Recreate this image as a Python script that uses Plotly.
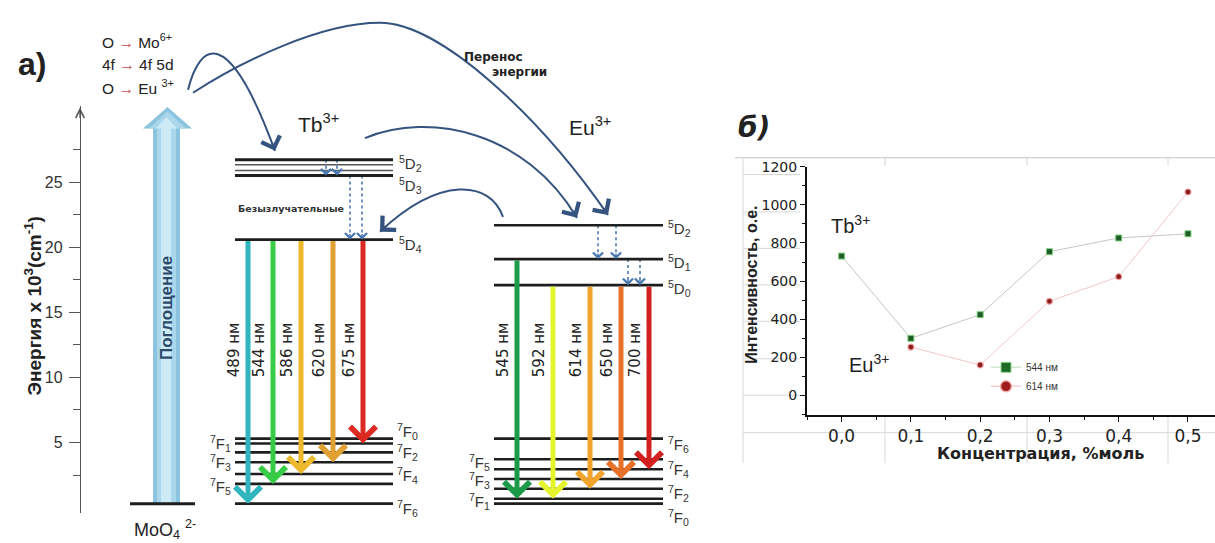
import plotly.graph_objects as go

W, H = 1215, 543


def px(x):
    return x / W


def py(y):
    return 1 - y / H


# ---------------- energy diagram, 10^3 cm^-1 ----------------
energy_ticks = [5, 10, 15, 20, 25]
energy_minor = [2.5, 7.5, 12.5, 17.5, 22.5, 27.5]

moo4_ground = 0.30
absorption_top = 30.8

tb_upper_levels = [26.74, 26.36, 25.91, 25.53]      # 5D2 ... 5D3 manifold
tb_5d4 = 20.6
tb_7f_names = ["7F0", "7F1", "7F2", "7F3", "7F4", "7F5", "7F6"]
tb_7f_levels = [5.30, 4.92, 4.24, 3.48, 2.58, 1.82, 0.30]

eu_5d_names = ["5D2", "5D1", "5D0"]
eu_5d_levels = [21.7, 19.1, 17.1]
eu_7f_names = ["7F6", "7F5", "7F4", "7F3", "7F2", "7F1", "7F0"]
eu_7f_levels = [5.30, 3.71, 2.95, 2.20, 1.44, 0.68, 0.30]

tb_emission_nm = [489, 544, 586, 620, 675]
tb_emission_to = ["7F6", "7F5", "7F4", "7F3", "7F1"]

eu_emission_nm = [545, 592, 614, 650, 700]
eu_emission_from = ["5D1", "5D0", "5D0", "5D0", "5D0"]
eu_emission_to = ["7F1", "7F1", "7F2", "7F3", "7F4"]

# ---------------- intensity vs concentration ----------------
conc_544 = [0.0, 0.1, 0.2, 0.3, 0.4, 0.5]
intensity_544 = [731, 300, 424, 754, 826, 848]
conc_614 = [0.1, 0.2, 0.3, 0.4, 0.5]
intensity_614 = [254, 160, 494, 623, 1067]
conc_ticks = [0.0, 0.1, 0.2, 0.3, 0.4, 0.5]
conc_ticktext = ["0,0", "0,1", "0,2", "0,3", "0,4", "0,5"]
intensity_ticks = [0, 200, 400, 600, 800, 1000, 1200]

# ---------------- styling / layout constants ----------------
tb_colors = ["#2fb5bd", "#37cc46", "#eeb82c", "#e0a032", "#dc2a22"]
eu_colors = ["#1b9a48", "#e4f52e", "#f0a42c", "#e8712a", "#d32020"]
tb_arrow_x = [248, 273, 301, 333, 363]
eu_arrow_x = [517, 553, 590, 621, 649]
TB_X0, TB_X1 = 235, 393
EU_X0, EU_X1 = 494, 663
LEVEL_COLOR = "#1e1e1e"
TRANSFER_COLOR = "#35537f"
DOT_COLOR = "#4a78b0"
SANS = "Liberation Sans, Arial, sans-serif"
WIDE = "DejaVu Sans, Verdana, sans-serif"

fig = go.Figure()
shapes = []
annotations = []


def state(name):
    return f"<sup>{name[0]}</sup>{name[1]}<sub>{name[2]}</sub>"


def level(x0, x1, e, width=2.6, color=LEVEL_COLOR):
    shapes.append(dict(type="line", xref="x", yref="y", x0=x0, x1=x1, y0=e, y1=e,
                       line=dict(color=color, width=width)))


def level_label(x, e, text, side, shift=0):
    annotations.append(dict(x=x, y=e, xref="x", yref="y", text=text, showarrow=False,
                            xanchor="left" if side == "r" else "right", yanchor="middle",
                            yshift=shift, font=dict(family=SANS, size=15, color="#333")))


def paper_text(x, y, text, size, family=SANS, color="#222", angle=0, xanchor="center"):
    annotations.append(dict(x=px(x), y=py(y), xref="paper", yref="paper", text=text,
                            showarrow=False, textangle=angle, xanchor=xanchor, yanchor="middle",
                            font=dict(family=family, size=size, color=color)))


# ---- absorption arrow of the molybdate group ----
head_e = absorption_top - 22 / 13.2
for (s0, s1, h0, h1, tip, col) in [
    (153, 180, 143, 192, absorption_top, "#8cc4e0"),
    (157, 176, 149, 186, absorption_top - 0.35, "#abd7ec"),
    (161, 171, 156, 177, absorption_top - 0.8, "#cdeaf7"),
]:
    path = (f"M{s0},{moo4_ground} L{s0},{head_e} L{h0},{head_e} L{(h0 + h1) / 2},{tip} "
            f"L{h1},{head_e} L{s1},{head_e} L{s1},{moo4_ground} Z")
    shapes.append(dict(type="path", xref="x", yref="y", path=path,
                       fillcolor=col, line=dict(width=0)))
annotations.append(dict(x=166.5, y=15.3, xref="x", yref="y", text="<b>Поглощение</b>",
                        textangle=-90, showarrow=False,
                        font=dict(family=SANS, size=17, color="#2b4a6b")))
level(130, 195, moo4_ground, width=3)
paper_text(165, 529, "MoO<sub>4</sub> <sup>2-</sup>", 18)

# ---- Tb3+ levels ----
for e, wdt, col in zip(tb_upper_levels, [3, 1.6, 1.6, 3], [LEVEL_COLOR, "#555", "#555", LEVEL_COLOR]):
    level(TB_X0, TB_X1, e, width=wdt, color=col)
level(TB_X0, TB_X1, tb_5d4)
for e in tb_7f_levels:
    level(TB_X0, TB_X1, e)

level_label(TB_X1 + 4, tb_upper_levels[0], state("5D2"), "r", -4)
level_label(TB_X1 + 4, tb_upper_levels[-1], state("5D3"), "r", -10)
level_label(TB_X1 + 4, tb_5d4, state("5D4"), "r", -5)
tb_label_shift = {"7F0": 7, "7F1": 0, "7F2": 0, "7F3": 0, "7F4": -2, "7F5": -3, "7F6": -5}
for name, e in zip(tb_7f_names, tb_7f_levels):
    side = "l" if int(name[2]) % 2 else "r"
    level_label(TB_X0 - 2 if side == "l" else TB_X1 + 2, e, state(name), side, tb_label_shift[name])

# ---- Eu3+ levels ----
for e in eu_5d_levels + eu_7f_levels:
    level(EU_X0, EU_X1, e)
for name, e in zip(eu_5d_names, eu_5d_levels):
    level_label(EU_X1 + 3, e, state(name), "r", -3)
eu_label_shift = {"7F6": -6, "7F5": -3, "7F4": 0, "7F3": -2, "7F2": -5, "7F1": -3, "7F0": -14}
for name, e in zip(eu_7f_names, eu_7f_levels):
    side = "l" if int(name[2]) % 2 else "r"
    level_label(EU_X0 - 2 if side == "l" else EU_X1 + 3, e, state(name), side, eu_label_shift[name])

# ---- radiative transitions ----
tb_7f = dict(zip(tb_7f_names, tb_7f_levels))
eu_7f = dict(zip(eu_7f_names, eu_7f_levels))
eu_5d = dict(zip(eu_5d_names, eu_5d_levels))


def emission(x, e_from, e_to, color, nm):
    annotations.append(dict(x=x, y=e_to, xref="x", yref="y", ax=x, ay=e_from, axref="x", ayref="y",
                            text="", showarrow=True, arrowhead=4, arrowsize=1.0, arrowwidth=5,
                            arrowcolor=color, standoff=0))
    annotations.append(dict(x=x - 14, y=12.1, xref="x", yref="y", text=f"{nm} нм", textangle=-90,
                            showarrow=False, font=dict(family=WIDE, size=15, color="#222")))


for x, to, col, nm in zip(tb_arrow_x, tb_emission_to, tb_colors, tb_emission_nm):
    emission(x, tb_5d4, tb_7f[to], col, nm)
for x, fr, to, col, nm in zip(eu_arrow_x, eu_emission_from, eu_emission_to, eu_colors, eu_emission_nm):
    emission(x, eu_5d[fr], eu_7f[to], col, nm)

# ---- non-radiative relaxation (dotted) ----
relaxations = [
    (326, tb_upper_levels[0], tb_upper_levels[-1]),
    (337, tb_upper_levels[0], tb_upper_levels[-1]),
    (350, tb_upper_levels[-1], tb_5d4),
    (362, tb_upper_levels[-1], tb_5d4),
    (598, eu_5d["5D2"], eu_5d["5D1"]),
    (616, eu_5d["5D2"], eu_5d["5D1"]),
    (628, eu_5d["5D1"], eu_5d["5D0"]),
    (640, eu_5d["5D1"], eu_5d["5D0"]),
]
for x, e0, e1 in relaxations:
    fig.add_trace(go.Scatter(x=[x, x], y=[e0, e1], xaxis="x", yaxis="y", mode="lines",
                             line=dict(color=DOT_COLOR, width=1.6, dash="dot"),
                             showlegend=False, hoverinfo="skip"))
    annotations.append(dict(x=x, y=e1, xref="x", yref="y", ax=0, ay=-7, text="", showarrow=True,
                            arrowhead=4, arrowsize=1.5, arrowwidth=1.3, arrowcolor=DOT_COLOR, standoff=0))
paper_text(291, 203, "<b>Безызлучательные</b>", 9.5, family=WIDE, color="#333")

# ---- energy-transfer curves ----
curves = [
    [(188, 83), (200, 35), (228, 15), (275, 145)],
    [(193, 86), (240, 55), (320, 15), (380, 15), (440, 15), (540, 110), (608, 210)],
    [(365, 132), (430, 105), (525, 125), (577, 213)],
    [(503, 212), (490, 175), (440, 170), (380, 227)],
]
for pts in curves:
    path = f"M{px(pts[0][0])},{py(pts[0][1])}"
    for i in range(1, len(pts), 3):
        path += " C" + " ".join(f"{px(x)},{py(y)}" for x, y in pts[i:i + 3])
    shapes.append(dict(type="path", xref="paper", yref="paper", path=path,
                       line=dict(color=TRANSFER_COLOR, width=2)))
    (tx, ty), (cx, cy) = pts[-1], pts[-2]
    d = ((cx - tx) ** 2 + (cy - ty) ** 2) ** 0.5
    annotations.append(dict(x=px(tx), y=py(ty), xref="paper", yref="paper",
                            ax=(cx - tx) / d * 10, ay=(cy - ty) / d * 10, text="", showarrow=True,
                            arrowhead=4, arrowsize=1.9, arrowwidth=2, arrowcolor=TRANSFER_COLOR,
                            standoff=0))

# energy axis arrow tip
annotations.append(dict(x=px(80), y=py(101), xref="paper", yref="paper", ax=0, ay=12, text="",
                        showarrow=True, arrowhead=5, arrowsize=1.3, arrowwidth=1.3,
                        arrowcolor="#555", standoff=0))

# ---- free text of the diagram ----
paper_text(32, 57, "<b>а)</b>", 32)
red_arrow = "<span style='color:#c0504d'>→</span>"
paper_text(100, 33, f"O {red_arrow} Mo<sup>6+</sup>", 15.5, xanchor="left")
paper_text(100, 57, f"4f {red_arrow} 4f 5d", 15.5, xanchor="left")
paper_text(100, 80, f"O {red_arrow} Eu <sup>3+</sup>", 15.5, xanchor="left")
paper_text(318, 117, "Tb<sup>3+</sup>", 21)
paper_text(590, 120, "Eu<sup>3+</sup>", 21)
paper_text(493, 50, "<b>Перенос</b>", 12, family=WIDE)
paper_text(519, 65, "<b>энергии</b>", 12, family=WIDE)
paper_text(33, 303, "<b>Энергия x 10<sup>3</sup>(cm<sup>-1</sup>)</b>", 19, angle=-90)

# ---------------- panel б ----------------
grid = dict(color="#d8d8d8", width=1)
shapes.append(dict(type="line", xref="paper", yref="paper", x0=px(735), x1=1, y0=py(152), y1=py(152),
                   line=dict(color="#c4c4c4", width=1.2), layer="below"))
shapes.append(dict(type="line", xref="paper", yref="paper", x0=px(743), x1=px(743), y0=py(152), y1=py(462),
                   line=grid, layer="below"))
for yy in [169, 207, 244, 281, 318, 356, 393]:
    shapes.append(dict(type="line", xref="paper", yref="paper", x0=px(743), x1=px(800), y0=py(yy), y1=py(yy),
                       line=grid, layer="below"))
shapes.append(dict(type="line", xref="paper", yref="paper", x0=px(743), x1=1, y0=py(431), y1=py(431),
                   line=grid, layer="below"))
for xx in [885, 1027, 1168]:
    shapes.append(dict(type="line", xref="paper", yref="paper", x0=px(xx), x1=px(xx), y0=py(415), y1=py(462),
                       line=grid, layer="below"))
    shapes.append(dict(type="line", xref="paper", yref="paper", x0=px(xx), x1=px(xx), y0=py(152), y1=py(160),
                       line=grid, layer="below"))

fig.add_trace(go.Scatter(
    x=conc_544, y=intensity_544, xaxis="x2", yaxis="y2", mode="lines+markers", name="544 нм",
    line=dict(color="#c6c6c6", width=1), showlegend=False,
    marker=dict(symbol="square", size=6, color="#1e5c26", line=dict(color="#7fcf7f", width=1))))
fig.add_trace(go.Scatter(
    x=conc_614, y=intensity_614, xaxis="x2", yaxis="y2", mode="lines+markers", name="614 нм",
    line=dict(color="#f0c8c8", width=1), showlegend=False,
    marker=dict(symbol="circle", size=6, color="#8a1c1c", line=dict(color="#f0a0a0", width=1.2))))
# legend entries with the enlarged symbols
fig.add_trace(go.Scatter(
    x=[None], y=[None], xaxis="x2", yaxis="y2", mode="lines+markers", name="544 нм",
    line=dict(color="#cfe8cf", width=1.5),
    marker=dict(symbol="square", size=10, color="#1e6b26", line=dict(color="#8fd68f", width=1))))
fig.add_trace(go.Scatter(
    x=[None], y=[None], xaxis="x2", yaxis="y2", mode="lines+markers", name="614 нм",
    line=dict(color="#f6d0d0", width=1.5),
    marker=dict(symbol="circle", size=11, color="#a01c1c", line=dict(color="#f4b0b0", width=1.5))))

paper_text(754, 121, "<b><i>б)</i></b>", 28, family=WIDE)
paper_text(850, 220, "Tb<sup>3+</sup>", 20)
paper_text(869, 361, "Eu<sup>3+</sup>", 20)
paper_text(752, 281, "<b>Интенсивность, о.е.</b>", 16, angle=-90)
paper_text(1040, 452, "<b>Концентрация, %моль</b>", 16, family=WIDE)

fig.update_layout(
    width=W, height=H, margin=dict(l=0, r=0, t=0, b=0),
    paper_bgcolor="white", plot_bgcolor="rgba(0,0,0,0)",
    font=dict(family=SANS, color="#222"),
    shapes=shapes, annotations=annotations,
    showlegend=True,
    legend=dict(x=px(986), y=py(350), xanchor="left", yanchor="top", bgcolor="rgba(0,0,0,0)",
                font=dict(family=SANS, size=10, color="#333"),
                tracegroupgap=0),
    xaxis=dict(domain=[0, px(700)], range=[0, 700], visible=False, fixedrange=True),
    yaxis=dict(domain=[py(512.3), py(99.1)], range=[-0.4, 30.9], anchor="free", position=px(80),
               showline=True, linecolor="#555", linewidth=1.4, showgrid=False, zeroline=False,
               ticks="outside", ticklen=11, tickwidth=1.3, tickcolor="#555",
               tickmode="array", tickvals=energy_ticks, ticklabelstandoff=3,
               tickfont=dict(family=SANS, size=16, color="#333"),
               minor=dict(tickmode="array", tickvals=energy_minor, ticks="outside", ticklen=7,
                          tickwidth=1.2, tickcolor="#555")),
    xaxis2=dict(domain=[px(807), 1], range=[-0.05, 0.539], anchor="y2",
                showline=True, linecolor="#111", linewidth=2, showgrid=False, zeroline=False,
                ticks="outside", ticklen=5, tickcolor="#111", tickmode="array",
                tickvals=conc_ticks, ticktext=conc_ticktext,
                tickfont=dict(family=WIDE, size=17, color="#222"),
                minor=dict(tickmode="linear", tick0=0, dtick=0.05, ticks="outside", ticklen=3,
                           tickcolor="#111")),
    yaxis2=dict(domain=[py(412.7), py(161)], range=[-100, 1200], anchor="x2",
                showline=True, linecolor="#111", linewidth=2, showgrid=False, zeroline=False,
                ticks="outside", ticklen=5, tickcolor="#111", tickmode="array",
                tickvals=intensity_ticks, tickfont=dict(family=WIDE, size=14, color="#222"),
                minor=dict(tickmode="linear", tick0=0, dtick=100, ticks="outside", ticklen=3,
                           tickcolor="#111")),
)

fig.write_html("out.html")
